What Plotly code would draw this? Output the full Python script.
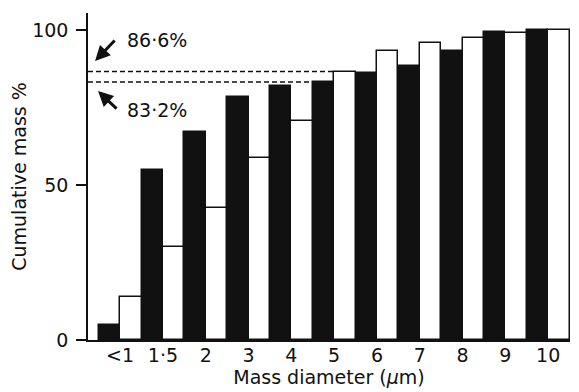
import plotly.graph_objects as go

categories = ["<1", "1·5", "2", "3", "4", "5", "6", "7", "8", "9", "10"]
black_values = [5, 55, 67, 78.3, 82, 83.2, 86.2, 88.4, 93.2, 99.5, 100]
white_values = [14, 30, 42.5, 58.6, 70.7, 86.6, 93.2, 95.7, 97.3, 99.2, 100]
line_upper = 86.6
line_lower = 83.2
label_upper = "86·6%"
label_lower = "83·2%"

xs = list(range(len(categories)))
FONT = "DejaVu Sans"
INK = "#111111"

fig = go.Figure()
fig.add_trace(go.Bar(x=xs, y=black_values, marker=dict(color=INK, line=dict(color=INK, width=1.5)),
                     showlegend=False, hoverinfo="skip"))
fig.add_trace(go.Bar(x=xs, y=white_values, marker=dict(color="white", line=dict(color=INK, width=1.5)),
                     showlegend=False, hoverinfo="skip"))

x0 = -0.75
idx5 = categories.index("5")
fig.add_shape(type="line", xref="x", yref="y", x0=x0, x1=idx5, y0=line_upper, y1=line_upper,
              line=dict(color=INK, width=1.5, dash="5px,3px"))
fig.add_shape(type="line", xref="x", yref="y", x0=x0, x1=idx5 - 0.5, y0=line_lower, y1=line_lower,
              line=dict(color=INK, width=1.5, dash="5px,3px"))

fig.add_annotation(x=x0 + 0.165, y=line_upper + 3.4, xref="x", yref="y", text="", showarrow=True,
                   ax=21, ay=-22, arrowhead=2, arrowsize=1.0, arrowwidth=3, arrowcolor=INK)
fig.add_annotation(x=x0 + 0.235, y=line_lower - 2.9, xref="x", yref="y", text="", showarrow=True,
                   ax=20, ay=19, arrowhead=2, arrowsize=1.0, arrowwidth=3, arrowcolor=INK)
fig.add_annotation(x=x0 + 0.86, y=line_upper + 10.2, xref="x", yref="y", text=label_upper,
                   showarrow=False, xanchor="left", yanchor="middle", font=dict(family=FONT, size=19, color=INK))
fig.add_annotation(x=x0 + 0.86, y=line_lower - 9.0, xref="x", yref="y", text=label_lower,
                   showarrow=False, xanchor="left", yanchor="middle", font=dict(family=FONT, size=19, color=INK))

# the page body has an 8px margin; size the figure so it fills the 579x392 window
fig.update_layout(
    width=571, height=384,
    margin=dict(l=80, r=9, t=5, b=52),
    paper_bgcolor="white", plot_bgcolor="white",
    barmode="group", bargap=0, bargroupgap=0,
    font=dict(family=FONT, size=19, color=INK),
    xaxis=dict(range=[x0, 10.51], tickvals=xs, ticktext=categories, showgrid=False, zeroline=False,
               showline=True, linecolor=INK, linewidth=1.5, ticks="", automargin=False,
               ticklabelstandoff=-3,
               title=dict(text="Mass diameter (<i>μ</i>m)", standoff=5, font=dict(size=19)),
               tickfont=dict(size=19)),
    yaxis=dict(range=[0, 105.5], tickvals=[0, 50, 100], showgrid=False, zeroline=False,
               showline=True, linecolor=INK, linewidth=1.5, ticks="outside", ticklen=10, tickwidth=1.5,
               tickcolor=INK, automargin=False, ticklabelstandoff=4,
               title=dict(text="Cumulative mass %", standoff=8, font=dict(size=19)),
               tickfont=dict(size=19)),
)

fig.write_html("out.html")
